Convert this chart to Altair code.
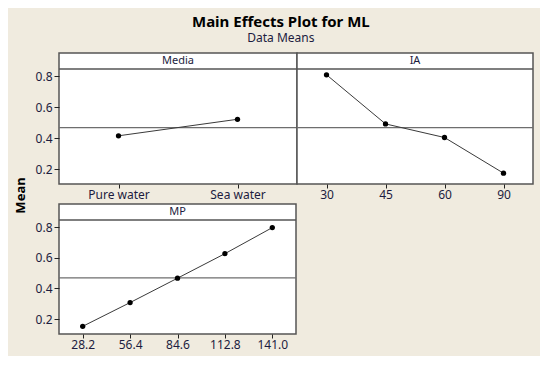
import altair as alt
import pandas as pd
import numpy as np

# ---- data ----
media_levels = ["Pure water", "Sea water"]
media_means = [0.415, 0.522]

ia_levels = ["30", "45", "60", "90"]
ia_means = [0.810, 0.492, 0.404, 0.173]

mp_levels = ["28.2", "56.4", "84.6", "112.8", "141.0"]
mp_means = [0.153, 0.308, 0.467, 0.627, 0.797]

y_ticks = [0.2, 0.4, 0.6, 0.8]
grand_mean = float(np.mean(media_means))

FONT = "Noto Sans"
NAVY = "#1c1c40"
Y_DOMAIN = [0.103, 0.951]


def panel(name, levels, means, width, height, show_y, y_title=False):
    df = pd.DataFrame({"level": levels, "mean": means})
    yscale = alt.Scale(domain=Y_DOMAIN, nice=False, zero=False)
    if show_y:
        axis_kw = dict(values=y_ticks, format=".1f", tickSize=5, labelPadding=2,
                       domain=False, grid=False, labelFont=FONT, labelFontSize=12,
                       labelColor=NAVY, tickColor="#222")
        if y_title:
            yaxis = alt.Axis(title="Mean", titleFont=FONT, titleFontSize=13,
                             titleFontWeight="bold", titleColor="black",
                             titleAngle=270, titleX=-39, titleY=142,
                             titleAlign="center", titleBaseline="middle", **axis_kw)
        else:
            yaxis = alt.Axis(title=None, **axis_kw)
    else:
        yaxis = None
    x = alt.X("level:N", sort=levels, scale=alt.Scale(type="point", padding=0.5),
              axis=alt.Axis(title=None, labelAngle=0, tickSize=4, labelPadding=1,
                            domain=False, grid=False, labelFont=FONT,
                            labelFontSize=12, labelColor=NAVY, tickColor="#222"))
    y = alt.Y("mean:Q", scale=yscale, axis=yaxis)
    base = alt.Chart(df)
    line = base.mark_line(color="#3a3a3a", strokeWidth=1).encode(x=x, y=y)
    pts = base.mark_circle(color="black", size=28, opacity=1).encode(x=x, y=y)
    mean_rule = alt.Chart(pd.DataFrame({"mean": [grand_mean]})).mark_rule(
        color="#6e6e6e", strokeWidth=1.3).encode(y=y)
    strip_rule = alt.Chart(pd.DataFrame({"s": [0]})).mark_rule(
        color="#555", strokeWidth=1.5).encode(y=alt.value(16))
    strip_text = alt.Chart(pd.DataFrame({"t": [name]})).mark_text(
        font=FONT, fontSize=11, color=NAVY, baseline="middle").encode(
        text="t:N", x=alt.value(width / 2), y=alt.value(8))
    return alt.layer(mean_rule, line, pts, strip_rule, strip_text).properties(
        width=width, height=height)


media = panel("Media", media_levels, media_means, 238, 131, True, True)
ia = panel("IA", ia_levels, ia_means, 236, 131, False)
mp = panel("MP", mp_levels, mp_means, 237, 130, True)

chart = alt.concat(media, ia, mp, columns=2,
                   spacing=alt.RowColnumber(row=20, column=0),
                   bounds="flush", align="none").properties(
    title=alt.TitleParams(
        "Main Effects Plot for ML", subtitle="Data Means",
        font=FONT, fontSize=15, fontWeight="bold", color="black",
        subtitleFont=FONT, subtitleFontSize=12, subtitleColor=NAVY,
        subtitlePadding=3, anchor="middle", dx=7, offset=8),
    padding={"left": 5, "top": 7, "right": 5, "bottom": 5},
    background="#f0ebdf",
).configure_view(stroke="#555", strokeWidth=1.5, fill="white")

chart.save("out.html", embed_options={"renderer": "svg", "actions": False})
